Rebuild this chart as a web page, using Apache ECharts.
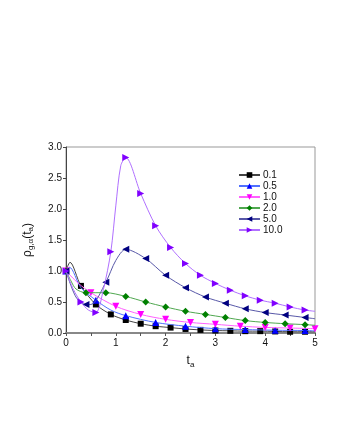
<!DOCTYPE html>
<html><head><meta charset="utf-8">
<script src="https://cdn.jsdelivr.net/npm/echarts@6/dist/echarts.min.js"></script>
<style>html,body{margin:0;padding:0;background:#fff}#c{width:340px;height:440px}</style>
</head><body><div id="c"></div>
<script>
// Series names
const names = ['0.1', '0.5', '1.0', '2.0', '5.0', '10.0'];

// Marker points (x, y)
const mx01 = [0, 0.3, 0.6, 0.9, 1.2, 1.5, 1.8, 2.1, 2.4, 2.7, 3.0, 3.3, 3.6, 3.9, 4.2, 4.5, 4.8];
const my01 = [1.0, 0.76, 0.46, 0.30, 0.21, 0.15, 0.11, 0.087, 0.065, 0.05, 0.04, 0.035, 0.03, 0.03, 0.025, 0.02, 0.02];
const mx05 = [0, 0.6, 1.2, 1.8, 2.4, 3.0, 3.6, 4.2, 4.8];
const my05 = [1.0, 0.53, 0.28, 0.17, 0.11, 0.07, 0.055, 0.045, 0.04];
const mx10 = [0, 0.5, 1.0, 1.5, 2.0, 2.5, 3.0, 3.5, 4.0, 4.5, 5.0];
const my10 = [1.0, 0.65, 0.43, 0.30, 0.22, 0.17, 0.14, 0.11, 0.09, 0.08, 0.07];
const mx20 = [0, 0.4, 0.8, 1.2, 1.6, 2.0, 2.4, 2.8, 3.2, 3.6, 4.0, 4.4, 4.8];
const my20 = [1.0, 0.65, 0.65, 0.59, 0.50, 0.42, 0.35, 0.30, 0.25, 0.20, 0.17, 0.15, 0.135];
const mx50 = [0, 0.4, 0.8, 1.2, 1.6, 2.0, 2.4, 2.8, 3.2, 3.6, 4.0, 4.4, 4.8];
const my50 = [1.0, 0.46, 0.82, 1.35, 1.20, 0.93, 0.73, 0.58, 0.48, 0.39, 0.33, 0.29, 0.25];
const mx100 = [0, 0.3, 0.6, 0.9, 1.2, 1.5, 1.8, 2.1, 2.4, 2.7, 3.0, 3.3, 3.6, 3.9, 4.2, 4.5, 4.8];
const my100 = [1.0, 0.50, 0.33, 1.31, 2.83, 2.25, 1.73, 1.38, 1.12, 0.93, 0.80, 0.69, 0.60, 0.53, 0.48, 0.42, 0.37];

// Extra points on the curves (no marker)
const cx01 = [0.08, 5.0];
const cy01 = [1.14, 0.02];
const cx05 = [0.07, 0.3, 0.9, 5.0];
const cy05 = [1.06, 0.73, 0.37, 0.035];
const cx10 = [0.25];
const cy10 = [0.80];
const cx20 = [0.1, 0.2, 5.0];
const cy20 = [0.84, 0.71, 0.125];
const cx50 = [0.2, 0.5, 1.0, 5.0];
const cy50 = [0.58, 0.46, 1.17, 0.23];
const cx100 = [0.15, 0.45, 0.75, 1.0, 1.1, 5.0];
const cy100 = [0.70, 0.37, 0.70, 2.05, 2.70, 0.35];

// Axis tick labels
const yTicks = ['0.0', '0.5', '1.0', '1.5', '2.0', '2.5', '3.0'];
const xTicks = ['0', '1', '2', '3', '4', '5'];

const markerColors = ['#000000', '#0000ff', '#ff00ff', '#008000', '#000080', '#8000ff'];
const lineColors = ['#444444', '#5070ff', '#ff60ff', '#50a850', '#5858a8', '#b070ff'];
const symbols = ['rect', 'triangle', 'triangle', 'diamond', 'triangle', 'triangle'];
const rotations = [0, 0, 180, 0, 90, -90];
const sizes = [6, 7, 7, 7, 7, 7];

function build(mx, my, cx, cy) {
  const pts = [];
  mx.forEach((x, i) => pts.push({ value: [x, my[i]] }));
  cx.forEach((x, i) => pts.push({ value: [x, cy[i]], symbol: 'none' }));
  pts.sort((a, b) => a.value[0] - b.value[0]);
  return pts;
}
const datasets = [
  build(mx01, my01, cx01, cy01),
  build(mx05, my05, cx05, cy05),
  build(mx10, my10, cx10, cy10),
  build(mx20, my20, cx20, cy20),
  build(mx50, my50, cx50, cy50),
  build(mx100, my100, cx100, cy100)
];

const chart = echarts.init(document.getElementById('c'));
const font = 'Liberation Sans, Arial, sans-serif';
chart.setOption({
  animation: false,
  backgroundColor: '#fff',
  grid: { left: 66, right: 25, top: 147, bottom: 107, show: true, borderColor: '#999', borderWidth: 1 },
  legend: {
    orient: 'vertical', left: 233, top: 165,
    itemWidth: 21, itemHeight: 7, itemGap: 1,
    textStyle: { fontFamily: font, fontSize: 10, color: '#111', lineHeight: 10, padding: [0, 0, 0, -2] },
    data: names
  },
  xAxis: {
    type: 'value', min: 0, max: 5, interval: 0.5,
    name: '{m|t}{s|a}', nameLocation: 'middle', nameGap: 20,
    nameTextStyle: { rich: { m: { fontFamily: font, fontSize: 12, color: '#111' }, s: { fontFamily: font, fontSize: 8, color: '#111', verticalAlign: 'bottom', padding: [8, 0, 0, 0] } } },
    axisLine: { lineStyle: { color: '#888', width: 2 } },
    axisTick: { show: true, inside: false, length: 3, lineStyle: { color: '#555' } },
    axisLabel: { fontFamily: font, fontSize: 10, color: '#111', margin: 5,
      formatter: v => (Math.abs(v - Math.round(v)) < 1e-6 ? xTicks[Math.round(v)] : '') },
    splitLine: { show: false }
  },
  yAxis: {
    type: 'value', min: 0, max: 3, interval: 0.5,
    name: '{m|ρ}{s|g,α}{m|(t}{s|a}{m|)}', nameLocation: 'middle', nameGap: 31, nameRotate: 90,
    nameTextStyle: { rich: { m: { fontFamily: font, fontSize: 12, color: '#111' }, s: { fontFamily: font, fontSize: 8, color: '#111', verticalAlign: 'bottom', padding: [7, 0, 0, 0] } } },
    axisLine: { show: true, lineStyle: { color: '#444', width: 1 } },
    axisTick: { show: true, inside: false, length: 3, lineStyle: { color: '#444' } },
    axisLabel: { fontFamily: font, fontSize: 10, color: '#111', margin: 4,
      formatter: v => yTicks[Math.round(v / 0.5)] },
    splitLine: { show: false }
  },
  series: names.map((n, i) => ({
    name: n, type: 'line', data: datasets[i],
    smooth: 0.3,
    symbol: symbols[i], symbolSize: sizes[i], symbolRotate: rotations[i],
    showAllSymbol: true,
    itemStyle: { color: markerColors[i] },
    lineStyle: { color: lineColors[i], width: 1 },
    z: 2 + i
  }))
});
</script></body></html>
